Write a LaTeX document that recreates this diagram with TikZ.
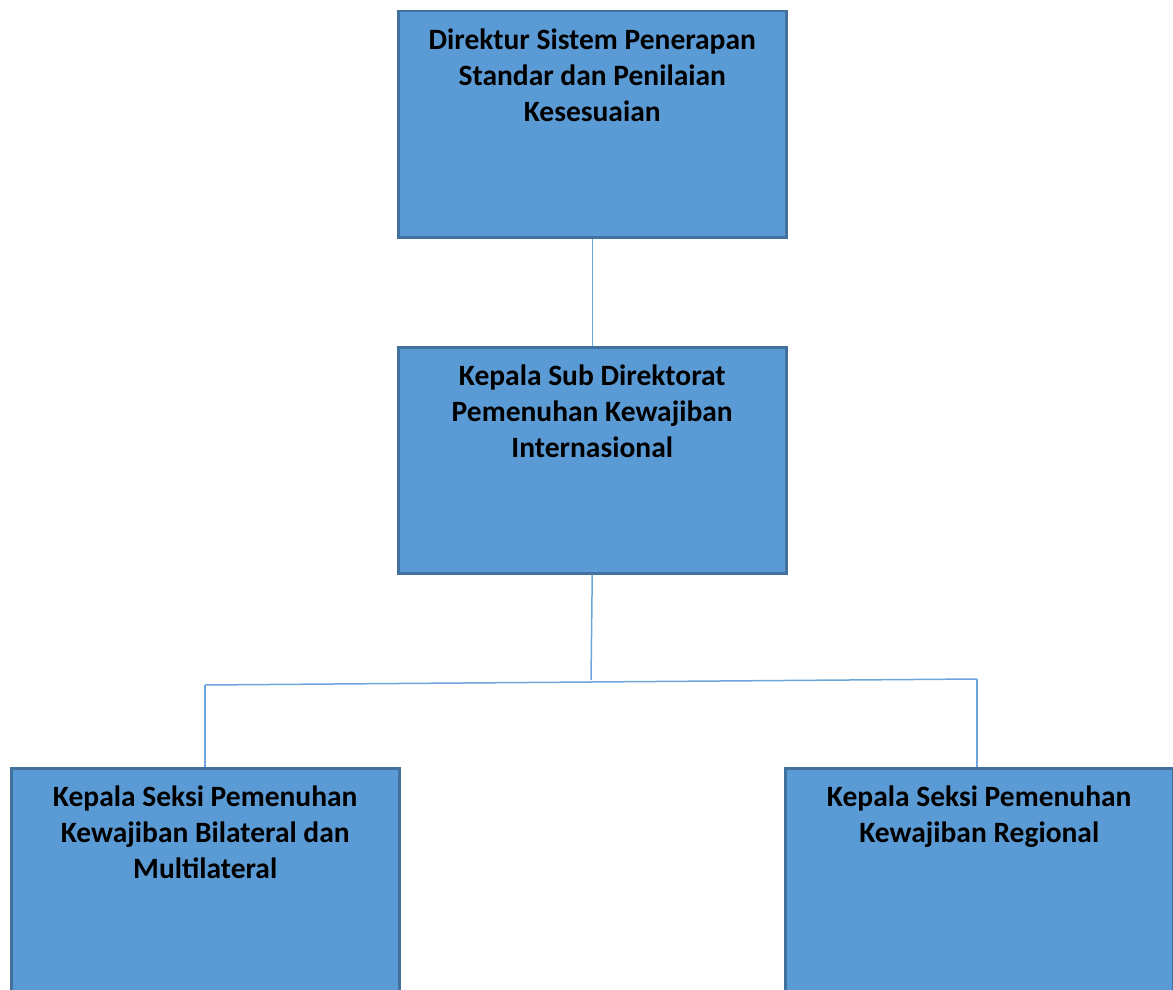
\documentclass[tikz,border=0pt]{standalone}
\usepackage{fontspec}
\setmainfont{Carlito}
\definecolor{boxfill}{HTML}{5B9BD5}
\definecolor{boxline}{HTML}{41719C}
\definecolor{conn}{HTML}{6DA6DA}
\newcommand{\boxtext}[1]{\parbox[c][226pt][t]{380pt}{\centering\fontsize{29.5}{36}\selectfont\bfseries\rule{0pt}{38pt}#1}}
\begin{document}
\begin{tikzpicture}[x=1pt,y=-1pt,
  orgbox/.style={draw=boxline,fill=boxfill,line width=2.5pt,inner sep=0pt,
    minimum width=388pt,minimum height=226pt,anchor=north west},
  link/.style={draw=conn,line width=1.5pt}]
\useasboundingbox (0,0) rectangle (1173,990);
\node[orgbox] (top) at (397,10) {\boxtext{Direktur Sistem Penerapan\\Standar dan Penilaian\\Kesesuaian}};
\node[orgbox] (mid) at (397,346) {\boxtext{Kepala Sub Direktorat\\Pemenuhan Kewajiban\\Internasional}};
\node[orgbox] (bl) at (10,767) {\boxtext{Kepala Seksi Pemenuhan\\Kewajiban Bilateral dan\\Multilateral}};
\node[orgbox] (br) at (784,767) {\boxtext{Kepala Seksi Pemenuhan\\Kewajiban Regional}};
\coordinate (j) at (591,680);
\coordinate (hl) at (205,685);
\coordinate (hr) at (977,679);
\draw[link] (top.south) -- (mid.north);
\draw[link] (mid.south) -- (j);
\draw[link] (hl) -- (hr);
\draw[link] (hl) -- (hl |- bl.north);
\draw[link] (hr) -- (hr |- br.north);
\end{tikzpicture}
\end{document}
